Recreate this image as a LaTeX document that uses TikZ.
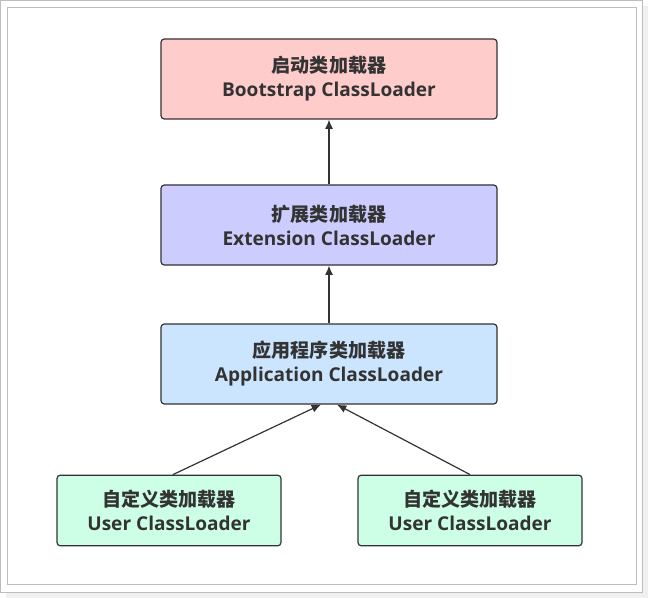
\documentclass[tikz,border=0pt]{standalone}
\usepackage{fontspec}
\setmainfont{Open Sans}
\newfontfamily\cjk{Noto Sans CJK SC}
\usetikzlibrary{arrows.meta}

\definecolor{framegray}{HTML}{BDBDBD}
\definecolor{shadowgray}{HTML}{F0F0F0}
\definecolor{linegray}{HTML}{333333}
\definecolor{bootfill}{HTML}{FFCCCC}
\definecolor{extfill}{HTML}{CCCCFF}
\definecolor{appfill}{HTML}{CCE5FF}
\definecolor{userfill}{HTML}{CCFFE6}

\newcommand{\loadertext}[2]{{\cjk\bfseries #1}\\#2}

\tikzset{
  loader/.style={draw=linegray, line width=0.9pt, rounded corners=2.5pt,
    minimum width=252pt, minimum height=60pt, align=center,
    text=linegray, font=\bfseries\fontsize{14.3}{18}\selectfont},
  userloader/.style={loader, minimum width=168pt, minimum height=53pt},
  parent/.style={-{Latex[length=7pt,width=6pt]}, draw=linegray, line width=0.9pt}
}

\begin{document}
\begin{tikzpicture}[x=0.75pt,y=-0.75pt]
                \useasboundingbox (0,0) rectangle (648,598);
                % frame
                \fill[shadowgray] (6,6) rectangle (648,598);
                \draw[framegray, fill=white] (0.5,0.5) rectangle (642,592);
                \draw[framegray] (7,7) rectangle (636,584);

                \node[loader, fill=bootfill] (boot) at (329,79) {\loadertext{启动类加载器}{Bootstrap ClassLoader}};
                \node[loader, fill=extfill] (ext) at (329,225) {\loadertext{扩展类加载器}{Extension ClassLoader}};
                \node[loader, fill=appfill] (app) at (329,364) {\loadertext{应用程序类加载器}{Application ClassLoader}};

                \node[userloader, fill=userfill] (userA) at (169,510.5) {\loadertext{自定义类加载器}{User ClassLoader}};
                \node[userloader, fill=userfill] (userB) at (470,510.5) {\loadertext{自定义类加载器}{User ClassLoader}};

                \draw[parent] (ext.north) -- (boot.south);
                \draw[parent] (app.north) -- (ext.south);
                \draw[parent] ([xshift=3pt]userA.north) -- ([xshift=-6pt]app.south);
                \draw[parent] ([xshift=0pt]userB.north) -- ([xshift=6pt]app.south);
            \end{tikzpicture}
\end{document}
